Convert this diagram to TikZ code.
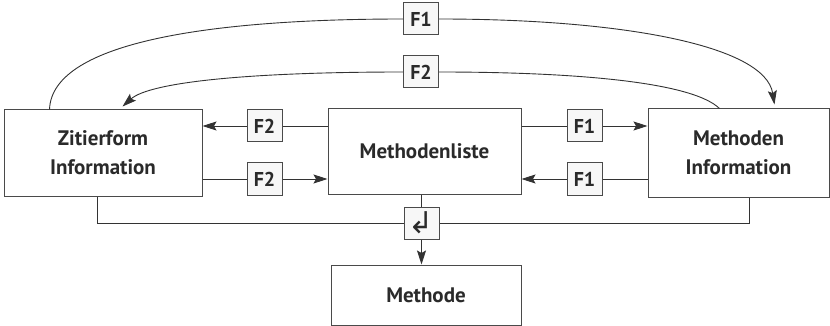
\documentclass[tikz,border=0pt]{standalone}
\usepackage{fontspec}
\setmainfont{PT Sans}
\newfontfamily\symfont{DejaVu Sans}
\usetikzlibrary{arrows.meta}
\definecolor{boxline}{HTML}{4A4A4A}
\definecolor{tagfill}{HTML}{F7F7F7}
\definecolor{txt}{HTML}{2A2A2A}
\tikzset{
  mainbox/.style={draw=boxline, line width=1pt, fill=white, align=center, text=txt, font=\fontsize{21}{29}\selectfont\bfseries, inner sep=0pt},
  tagbox/.style={draw=boxline, line width=1pt, fill=tagfill, text=txt, minimum width=35pt, minimum height=32pt, inner sep=0pt, font=\fontsize{20}{22}\selectfont\bfseries},
  conn/.style={draw=black!80, line width=0.9pt},
  arr/.style={conn, -{Stealth[length=14pt,width=9pt,inset=2.5pt]}}
}
\begin{document}
\begin{tikzpicture}[x=1pt,y=1pt]
\useasboundingbox (0,0) rectangle (830,-326);
\clip (0,0) rectangle (830,-326);
% main boxes
\node[mainbox, minimum width=198pt, minimum height=86pt] (zl) at (103,-153) {Zitierform\\Information};
\node[mainbox, minimum width=193pt, minimum height=85pt] (ml) at (424.5,-151.5) {Methodenliste};
\node[mainbox, minimum width=181pt, minimum height=88pt] (mi) at (738.5,-153) {Methoden\\Information};
\node[mainbox, minimum width=190pt, minimum height=60pt] (me) at (426,-295) {Methode};
% tags
\node[tagbox] (f2a) at (264.5,-126) {F2};
\node[tagbox] (f2b) at (264.5,-179) {F2};
\node[tagbox] (f1a) at (584.5,-126) {F1};
\node[tagbox] (f1b) at (584.5,-179) {F1};
\node[tagbox, font=\fontsize{30}{30}\symfont] (ret) at (421.5,-223) {↲};
\node[tagbox] (f1t) at (421,-19) {F1};
\node[tagbox] (f2t) at (421,-72) {F2};
% horizontal connectors
\draw[conn] (ml.west |- f2a.east) -- (f2a.east);
\draw[arr] (f2a.west) -- (zl.east |- f2a.west);
\draw[conn] (zl.east |- f2b.west) -- (f2b.west);
\draw[arr] (f2b.east) -- (ml.west |- f2b.east);
\draw[conn] (ml.east |- f1a.west) -- (f1a.west);
\draw[arr] (f1a.east) -- (mi.west |- f1a.east);
\draw[conn] (mi.west |- f1b.east) -- (f1b.east);
\draw[arr] (f1b.west) -- (ml.east |- f1b.west);
% bottom connectors
\coordinate (zlb) at ([xshift=94pt]zl.south west);
\coordinate (mib) at ([xshift=102pt]mi.south west);
\draw[conn] (zlb) |- (ret.west);
\draw[conn] (mib) |- (ret.east);
\draw[conn] (ml.south -| ret.north) -- (ret.north);
\draw[arr] (ret.south) -- (me.north -| ret.south);
% top arcs
\coordinate (a1s) at ([xshift=46pt]zl.north west);
\coordinate (a1e) at ([xshift=127pt]mi.north west);
\coordinate (a2s) at ([xshift=72pt]mi.north west);
\coordinate (a2e) at ([xshift=119pt]zl.north west);
\draw[conn] (a1s) .. controls (52,-40) and (220,-19) .. (f1t.west);
\draw[arr] (f1t.east) .. controls (620,-19) and (765,-45) .. ([yshift=4pt]a1e);
\draw[conn] (a2s) .. controls (690,-80) and (560,-72) .. (f2t.east);
\draw[arr] (f2t.west) .. controls (250,-72) and (150,-82) .. ([yshift=3pt]a2e);
\end{tikzpicture}
\end{document}
